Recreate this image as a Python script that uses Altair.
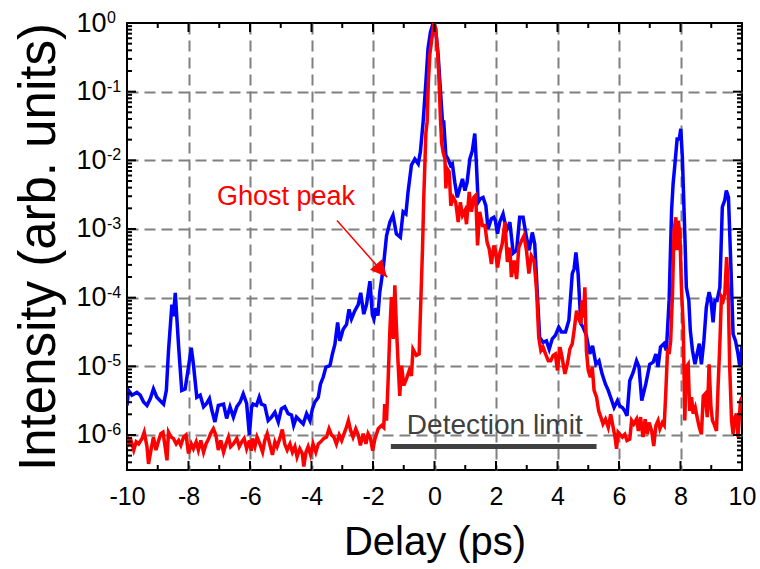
import altair as alt
import pandas as pd

# Delay axis (ps)
x_ticks = [-10, -8, -6, -4, -2, 0, 2, 4, 6, 8, 10]
x_minor = [-9, -7, -5, -3, -1, 1, 3, 5, 7, 9]
# Intensity decades and their exponents
y_exps = [0, -1, -2, -3, -4, -5, -6]
y_ticks = [10.0 ** e for e in y_exps]
Y_MIN = 10 ** -6.51
y_minor = [m * 10.0 ** e for e in range(-7, 0) for m in range(2, 10)]
y_minor = [v for v in y_minor if Y_MIN < v < 1]

# Blue trace: delay (ps) and log10 of intensity
blue_x = [-10.0, -9.95, -9.84, -9.68, -9.57, -9.46, -9.35, -9.24, -9.14, -9.03,
          -8.92, -8.81, -8.72, -8.65, -8.54, -8.49, -8.43, -8.38, -8.32, -8.22,
          -8.11, -8.0, -7.91, -7.84, -7.73, -7.62, -7.51, -7.41, -7.32, -7.24,
          -7.14, -7.03, -6.86, -6.76, -6.65, -6.54, -6.43, -6.32, -6.22, -6.11,
          -6.02, -5.95, -5.9, -5.79, -5.7, -5.63, -5.52, -5.41, -5.3, -5.19,
          -5.08, -4.98, -4.87, -4.76, -4.65, -4.58, -4.49, -4.38, -4.27, -4.16,
          -4.05, -3.97, -3.89, -3.78, -3.71, -3.62, -3.53, -3.4, -3.32, -3.24,
          -3.15, -3.08, -2.97, -2.86, -2.78, -2.7, -2.59, -2.48, -2.4, -2.3,
          -2.21, -2.1, -2.02, -1.97, -1.91, -1.84, -1.78, -1.67, -1.56, -1.45,
          -1.35, -1.24, -1.11, -1.02, -0.93, -0.86, -0.75, -0.64, -0.53, -0.46,
          -0.37, -0.28, -0.21, -0.13, -0.04, 0.03, 0.12, 0.19, 0.26, 0.3,
          0.37, 0.44, 0.52, 0.58, 0.66, 0.74, 0.82, 0.91, 0.99, 1.06,
          1.15, 1.23, 1.31, 1.36, 1.42, 1.49, 1.58, 1.67, 1.74, 1.85,
          1.93, 1.98, 2.05, 2.12, 2.23, 2.34, 2.45, 2.56, 2.67, 2.77,
          2.88, 2.99, 3.08, 3.18, 3.26, 3.35, 3.42, 3.53, 3.64, 3.73,
          3.83, 3.93, 4.04, 4.13, 4.26, 4.37, 4.48, 4.54, 4.6, 4.67,
          4.76, 4.83, 4.94, 5.05, 5.14, 5.25, 5.35, 5.45, 5.56, 5.65,
          5.75, 5.84, 5.95, 6.03, 6.11, 6.19, 6.26, 6.35, 6.46, 6.57,
          6.65, 6.74, 6.87, 7.0, 7.11, 7.2, 7.27, 7.35, 7.46, 7.54,
          7.63, 7.71, 7.76, 7.81, 7.89, 7.96, 8.01, 8.06, 8.14, 8.19,
          8.27, 8.32, 8.39, 8.47, 8.54, 8.61, 8.68, 8.76, 8.84, 8.93,
          8.99, 9.06, 9.12, 9.19, 9.28, 9.36, 9.44, 9.49, 9.56, 9.64,
          9.71, 9.79, 9.87, 9.93, 10.0]
blue_log = [-5.57, -5.35, -5.42, -5.38, -5.42, -5.52, -5.57, -5.47, -5.33, -5.45,
            -5.5, -5.55, -5.35, -4.77, -4.1, -4.27, -3.93, -4.29, -4.72, -5.35,
            -5.33, -5.01, -4.73, -4.97, -5.45, -5.42, -5.59, -5.54, -5.47, -5.64,
            -5.81, -5.57, -5.55, -5.76, -5.59, -5.74, -5.59, -5.52, -5.4, -5.54,
            -6.0, -5.6, -5.55, -5.57, -5.45, -5.55, -5.57, -5.79, -5.74, -5.67,
            -5.81, -5.62, -5.59, -5.69, -5.71, -5.86, -5.74, -5.79, -5.84, -5.69,
            -5.79, -5.62, -5.52, -5.45, -5.26, -5.16, -5.01, -4.99, -4.82, -4.68,
            -4.36, -4.63, -4.46, -4.39, -4.17, -4.31, -4.19, -4.1, -3.93, -4.24,
            -4.1, -3.76, -4.25, -4.31, -4.15, -4.26, -3.92, -3.58, -3.1, -2.9,
            -2.8, -3.07, -3.12, -2.75, -2.78, -2.46, -2.07, -1.98, -2.05, -1.88,
            -1.44, -0.86, -0.37, -0.13, 0.0, -0.08, -0.47, -0.96, -1.44, -1.44,
            -1.93, -1.98, -2.07, -2.05, -2.32, -2.54, -2.41, -2.27, -2.44, -2.32,
            -1.98, -1.86, -1.61, -2.03, -2.61, -2.56, -2.54, -2.66, -3.0, -2.85,
            -2.83, -2.88, -3.07, -2.9, -2.78, -3.02, -2.9, -3.35, -3.31, -2.83,
            -2.83, -3.12, -3.31, -3.05, -3.22, -3.99, -4.58, -4.65, -4.63, -4.75,
            -4.6, -4.55, -4.43, -4.5, -4.5, -4.33, -3.65, -3.58, -3.34, -3.65,
            -4.38, -4.43, -4.55, -4.82, -4.7, -4.97, -4.92, -5.11, -5.26, -5.35,
            -5.48, -5.6, -5.5, -5.58, -5.6, -5.65, -5.72, -5.21, -5.09, -4.92,
            -5.01, -5.5, -5.26, -4.97, -4.94, -4.82, -5.01, -4.72, -4.67, -4.77,
            -4.04, -2.73, -2.34, -2.1, -1.69, -1.69, -1.54, -1.95, -3.07, -3.85,
            -4.04, -4.48, -4.77, -4.97, -4.82, -4.67, -4.97, -4.63, -4.14, -3.92,
            -4.04, -4.36, -4.04, -4.04, -3.85, -2.68, -2.58, -2.44, -2.54, -3.56,
            -4.53, -4.63, -4.82, -5.01, -4.7]

# Red trace: delay (ps) and log10 of intensity
red_x = [-10.0, -9.95, -9.87, -9.78, -9.7, -9.62, -9.51, -9.44, -9.35, -9.3,
         -9.22, -9.14, -9.06, -8.97, -8.9, -8.83, -8.76, -8.7, -8.65, -8.57,
         -8.49, -8.4, -8.32, -8.25, -8.16, -8.08, -8.0, -7.91, -7.84, -7.75,
         -7.68, -7.6, -7.51, -7.43, -7.34, -7.28, -7.19, -7.11, -7.03, -6.95,
         -6.86, -6.78, -6.7, -6.63, -6.54, -6.43, -6.35, -6.27, -6.19, -6.11,
         -6.02, -5.96, -5.92, -5.84, -5.77, -5.68, -5.59, -5.52, -5.44, -5.36,
         -5.27, -5.19, -5.12, -5.03, -4.95, -4.87, -4.79, -4.7, -4.62, -4.54,
         -4.47, -4.38, -4.3, -4.25, -4.18, -4.11, -4.03, -3.95, -3.86, -3.78,
         -3.7, -3.6, -3.51, -3.43, -3.35, -3.27, -3.19, -3.1, -3.02, -2.94,
         -2.86, -2.8, -2.73, -2.65, -2.56, -2.48, -2.41, -2.32, -2.23, -2.16,
         -2.08, -2.01, -1.94, -1.83, -1.72, -1.65, -1.62, -1.56, -1.51, -1.45,
         -1.4, -1.34, -1.29, -1.24, -1.18, -1.13, -1.07, -1.0, -0.91, -0.82,
         -0.75, -0.7, -0.59, -0.5, -0.46, -0.39, -0.35, -0.28, -0.24, -0.2,
         -0.15, -0.1, -0.02, 0.04, 0.1, 0.15, 0.19, 0.23, 0.28, 0.34,
         0.37, 0.41, 0.48, 0.53, 0.61, 0.69, 0.77, 0.84, 0.91, 0.99,
         1.04, 1.13, 1.2, 1.28, 1.34, 1.4, 1.47, 1.56, 1.64, 1.71,
         1.78, 1.85, 1.93, 1.98, 2.05, 2.12, 2.2, 2.29, 2.37, 2.45,
         2.5, 2.59, 2.67, 2.74, 2.83, 2.91, 2.99, 3.07, 3.15, 3.24,
         3.32, 3.39, 3.46, 3.53, 3.61, 3.7, 3.78, 3.86, 3.93, 4.0,
         4.08, 4.15, 4.24, 4.32, 4.4, 4.48, 4.54, 4.62, 4.67, 4.76,
         4.8, 4.84, 4.89, 4.94, 5.0, 5.07, 5.13, 5.19, 5.27, 5.34,
         5.41, 5.48, 5.56, 5.65, 5.73, 5.81, 5.87, 5.92, 5.97, 6.03,
         6.11, 6.19, 6.26, 6.35, 6.41, 6.48, 6.57, 6.63, 6.7, 6.78,
         6.85, 6.92, 6.98, 7.06, 7.13, 7.2, 7.27, 7.33, 7.41, 7.47,
         7.52, 7.58, 7.63, 7.68, 7.74, 7.79, 7.85, 7.89, 7.93, 7.98,
         8.03, 8.09, 8.14, 8.19, 8.25, 8.3, 8.36, 8.41, 8.48, 8.54,
         8.61, 8.68, 8.74, 8.8, 8.87, 8.93, 8.99, 9.04, 9.09, 9.17,
         9.22, 9.28, 9.33, 9.39, 9.44, 9.5, 9.55, 9.6, 9.66, 9.71,
         9.77, 9.82, 9.87, 9.95, 10.0]
red_log = [-6.0, -6.13, -6.08, -6.22, -6.1, -6.13, -6.05, -5.96, -6.17, -6.42,
           -6.22, -6.03, -6.22, -6.08, -5.98, -5.96, -6.17, -6.37, -5.96, -6.03,
           -6.05, -6.13, -6.08, -6.15, -6.03, -6.0, -6.27, -6.13, -6.2, -6.1,
           -6.22, -6.08, -6.25, -6.13, -6.05, -5.98, -5.91, -6.0, -6.22, -6.08,
           -6.25, -6.13, -6.03, -6.17, -6.13, -6.05, -6.17, -6.1, -6.05, -6.2,
           -6.08, -6.23, -6.05, -6.17, -6.03, -6.13, -6.25, -6.08, -5.98, -6.13,
           -6.29, -6.1, -6.17, -6.05, -5.92, -6.13, -6.22, -6.13, -6.25, -6.17,
           -6.32, -6.2, -6.27, -6.46, -6.25, -6.17, -6.29, -6.13, -6.25, -6.13,
           -6.1, -6.05, -6.03, -5.91, -6.0, -6.03, -6.13, -6.0, -6.08, -5.98,
           -5.88, -5.79, -5.93, -6.03, -5.91, -6.0, -6.15, -5.98, -6.13, -5.98,
           -6.05, -6.23, -6.06, -5.91, -5.86, -5.89, -5.55, -5.79, -5.23, -4.46,
           -3.99, -4.6, -3.82, -4.41, -4.99, -5.43, -4.99, -5.28, -5.18, -5.06,
           -5.14, -4.75, -4.84, -4.82, -4.26, -3.29, -2.56, -1.6, -1.44, -0.86,
           -0.45, -0.28, 0.0, -0.08, -0.4, -0.86, -1.35, -1.74, -1.88, -1.98,
           -2.41, -2.12, -2.17, -2.66, -2.54, -2.61, -2.9, -2.61, -2.8, -2.73,
           -2.93, -2.46, -2.75, -2.54, -2.51, -3.24, -2.75, -2.95, -2.95, -3.19,
           -3.29, -3.51, -3.24, -3.31, -3.56, -3.36, -3.22, -2.9, -3.48, -3.27,
           -3.7, -3.46, -3.73, -3.27, -3.17, -3.1, -3.31, -3.65, -3.39, -3.46,
           -3.9, -4.58, -4.77, -4.72, -4.82, -4.92, -4.92, -4.84, -4.82, -5.06,
           -4.72, -4.87, -5.11, -4.97, -4.75, -4.67, -4.48, -4.19, -4.29, -4.38,
           -4.04, -4.29, -3.85, -4.77, -5.06, -5.16, -5.01, -5.35, -5.45, -5.65,
           -5.74, -5.84, -5.77, -5.89, -5.7, -5.89, -6.03, -6.2, -5.96, -5.99,
           -6.03, -5.99, -6.08, -6.06, -5.79, -5.84, -5.77, -5.94, -5.74, -6.03,
           -5.77, -5.99, -5.82, -5.94, -6.16, -5.86, -5.79, -5.91, -5.82, -5.86,
           -5.4, -4.75, -4.82, -4.63, -3.94, -3.02, -2.83, -3.31, -2.88, -3.07,
           -3.85, -4.43, -5.79, -5.01, -4.97, -5.65, -5.45, -5.69, -5.6, -5.74,
           -5.89, -5.99, -5.43, -5.4, -5.74, -4.97, -5.6, -5.79, -5.84, -5.94,
           -5.31, -4.67, -3.99, -4.04, -3.94, -3.41, -3.85, -5.01, -5.79, -5.99,
           -5.74, -5.69, -6.03, -5.5, -5.45]

blue_df = pd.DataFrame({"delay": blue_x, "intensity": [10.0 ** v for v in blue_log]})
red_df = pd.DataFrame({"delay": red_x, "intensity": [10.0 ** v for v in red_log]})

# Annotation anchors in data units
GHOST_LABEL = {"delay": -4.83, "intensity": 2.27e-3, "text": "Ghost peak"}
ARROW_FROM = {"delay": -3.17, "intensity": 1.33e-3}
ARROW_TIP = {"delay": -1.54, "intensity": 1.98e-4}
LIMIT_BAR = {"start": -1.42, "end": 5.27, "level": 6.8e-7}
LIMIT_LABEL = {"delay": 1.96, "intensity": 1.035e-6, "text": "Detection limit"}

FONT = "Liberation Sans"
W, H = 615, 447
MAJOR, MINOR = 9, 5
GRID = dict(gridDash=[11, 6], gridColor="#808080", gridWidth=2)

x_scale = alt.Scale(domain=[-10, 10], nice=False, zero=False)
y_scale = alt.Scale(type="log", domain=[Y_MIN, 1], nice=False)

main_x_axis = alt.Axis(
    orient="bottom", values=x_ticks, labelExpr="'' + datum.value",
    labelFontSize=25, labelPadding=14, labelColor="black", labelFlush=False,
    labelOverlap=False, ticks=False, tickSize=0, domain=False, grid=True,
    gridOpacity={"condition": {"test": "abs(datum.value) > 9.5", "value": 0}, "value": 1},
    titleFontSize=40, titleFontWeight="normal", titleColor="black",
    titleY=84, titleBaseline="alphabetic", **GRID,
)
# decade labels: the base "10" sits on the axis, exponents are drawn as a text layer
main_y_axis = alt.Axis(
    orient="left", values=y_ticks, labelExpr="'10'",
    labelFontSize=27, labelPadding=21, labelColor="black", labelFlush=False,
    labelOverlap=False, ticks=False, tickSize=0, domain=False, grid=True,
    gridOpacity={"condition": {"test": "datum.value > 0.5", "value": 0}, "value": 1},
    titleFontSize=51, titleFontWeight="normal", titleColor="black",
    titleAngle=270, titleX=-73, titleY=223.5, titleAlign="center",
    titleBaseline="alphabetic", **GRID,
)

blue = alt.Chart(blue_df).mark_line(color="#0000ff", strokeWidth=3.5, clip=True).encode(
    x=alt.X("delay:Q", scale=x_scale, axis=main_x_axis, title="Delay (ps)"),
    y=alt.Y("intensity:Q", scale=y_scale, axis=main_y_axis, title="Intensity (arb. units)"),
)

red = alt.Chart(red_df).mark_line(color="#ff0000", strokeWidth=3.5, clip=True).encode(
    x=alt.X("delay:Q", scale=x_scale, axis=None),
    y=alt.Y("intensity:Q", scale=y_scale, axis=None),
)

exp_df = pd.DataFrame({"value": y_ticks, "exp": [str(e) for e in y_exps]})
exponents = alt.Chart(exp_df).mark_text(
    font=FONT, fontSize=16, color="black", align="left", baseline="alphabetic", dy=0,
).encode(
    x=alt.value(-20),
    y=alt.Y("value:Q", scale=y_scale, axis=None),
    text="exp:N",
)


def x_ticks_layer(values, length):
    df = pd.DataFrame({"v": values})
    base = alt.Chart(df).mark_rule(color="black", strokeWidth=2)
    xe = alt.X("v:Q", scale=x_scale, axis=None)
    bottom = base.encode(x=xe, y=alt.value(H), y2=alt.value(H - length))
    top = base.encode(x=xe, y=alt.value(0), y2=alt.value(length))
    return [bottom, top]


def y_ticks_layer(values, length):
    df = pd.DataFrame({"v": values})
    base = alt.Chart(df).mark_rule(color="black", strokeWidth=2)
    ye = alt.Y("v:Q", scale=y_scale, axis=None)
    left = base.encode(y=ye, x=alt.value(0), x2=alt.value(length))
    right = base.encode(y=ye, x=alt.value(W), x2=alt.value(W - length))
    return [left, right]


tick_marks = (x_ticks_layer(x_ticks, MAJOR) + x_ticks_layer(x_minor, MINOR)
              + y_ticks_layer(y_ticks, MAJOR) + y_ticks_layer(y_minor, MINOR))

arrow_df = pd.DataFrame({
    "x0": [ARROW_FROM["delay"]], "y0": [ARROW_FROM["intensity"]],
    "x1": [ARROW_TIP["delay"]], "y1": [ARROW_TIP["intensity"]],
})
arrow_line = alt.Chart(arrow_df).mark_rule(color="#ff0000", strokeWidth=1.5).encode(
    x=alt.X("x0:Q", scale=x_scale, axis=None),
    y=alt.Y("y0:Q", scale=y_scale, axis=None),
    x2="x1:Q", y2="y1:Q",
)
arrow_head = alt.Chart(arrow_df).mark_point(
    shape="M0,0 L0.93,2 L-0.93,2 Z", size=289, angle=139,
    filled=True, color="#ff0000", opacity=1, strokeWidth=0,
).encode(
    x=alt.X("x1:Q", scale=x_scale, axis=None),
    y=alt.Y("y1:Q", scale=y_scale, axis=None),
)

ghost_text = alt.Chart(pd.DataFrame([GHOST_LABEL])).mark_text(
    font=FONT, fontSize=27, color="#ff0000", align="center", baseline="alphabetic",
).encode(
    x=alt.X("delay:Q", scale=x_scale, axis=None),
    y=alt.Y("intensity:Q", scale=y_scale, axis=None),
    text="text:N",
)

limit_df = pd.DataFrame({"start": [LIMIT_BAR["start"]], "end": [LIMIT_BAR["end"]],
                         "level": [LIMIT_BAR["level"]]})
limit_bar = alt.Chart(limit_df).mark_rule(color="#404040", strokeWidth=5).encode(
    x=alt.X("start:Q", scale=x_scale, axis=None),
    x2="end:Q",
    y=alt.Y("level:Q", scale=y_scale, axis=None),
)
limit_text = alt.Chart(pd.DataFrame([LIMIT_LABEL])).mark_text(
    font=FONT, fontSize=28, color="#404040", align="center", baseline="alphabetic",
).encode(
    x=alt.X("delay:Q", scale=x_scale, axis=None),
    y=alt.Y("intensity:Q", scale=y_scale, axis=None),
    text="text:N",
)

chart = alt.layer(
    blue, red, *tick_marks, exponents, arrow_line, arrow_head, ghost_text,
    limit_bar, limit_text,
).resolve_axis(
    x="independent", y="independent",
).properties(
    width=W, height=H,
    padding={"left": 127, "top": 23, "right": 18, "bottom": 99},
    autosize=alt.AutoSizeParams(type="none"),
).configure(
    font=FONT,
).configure_view(
    stroke="black", strokeWidth=2,
)

chart.save("out.html", embed_options={"renderer": "svg", "actions": False})
